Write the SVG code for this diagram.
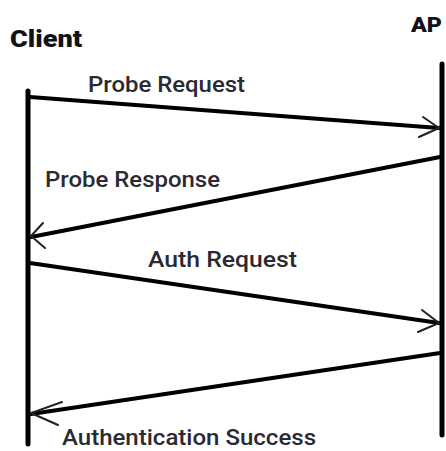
<svg xmlns="http://www.w3.org/2000/svg" width="446" height="451" viewBox="0 0 446 451">
<style>
.life{stroke:#000;stroke-width:5;stroke-linecap:round;fill:none}
.msg{stroke:#000;stroke-width:4;stroke-linecap:round;fill:none}
.head{stroke:#222;stroke-width:2;stroke-linecap:round;fill:none}
.actor{font-family:Roboto,"Liberation Sans",Arial,sans-serif;font-weight:900;fill:#111118}
.lbl{font-family:Roboto,"Liberation Sans",sans-serif;font-weight:500;font-size:22px;fill:#2a2a33}
</style>
<rect width="446" height="451" fill="#fff"/>
<g id="client">
<text class="actor" x="10" y="47" font-size="23" textLength="72" lengthAdjust="spacingAndGlyphs">Client</text>
<line class="life" x1="28" y1="91" x2="28" y2="444"/>
</g>
<g id="ap">
<text class="actor" x="411" y="32" font-size="20" textLength="31" lengthAdjust="spacingAndGlyphs">AP</text>
<line class="life" x1="442" y1="64" x2="442" y2="435"/>
</g>
<g id="connectors">
<g id="probe-request">
<line class="msg" x1="30" y1="97" x2="439" y2="128"/>
<polyline class="head" points="423,117 439,128 419,137"/>
<text class="lbl" x="88" y="92" textLength="157" lengthAdjust="spacingAndGlyphs">Probe Request</text>
</g>
<g id="probe-response">
<line class="msg" x1="440" y1="157" x2="31" y2="237"/>
<polyline class="head" points="43,223 31,236 45,248"/>
<text class="lbl" x="45" y="187" textLength="175" lengthAdjust="spacingAndGlyphs">Probe Response</text>
</g>
<g id="auth-request">
<line class="msg" x1="30" y1="263" x2="439" y2="323"/>
<polyline class="head" points="422,310 439,323 418,332"/>
<text class="lbl" x="148" y="267" textLength="149" lengthAdjust="spacingAndGlyphs">Auth Request</text>
</g>
<g id="auth-success">
<line class="msg" x1="440" y1="353" x2="31" y2="414"/>
<polyline class="head" points="62,402 31,413 58,425"/>
<text class="lbl" x="62" y="445" textLength="254" lengthAdjust="spacingAndGlyphs">Authentication Success</text>
</g>
</g>
</svg>
